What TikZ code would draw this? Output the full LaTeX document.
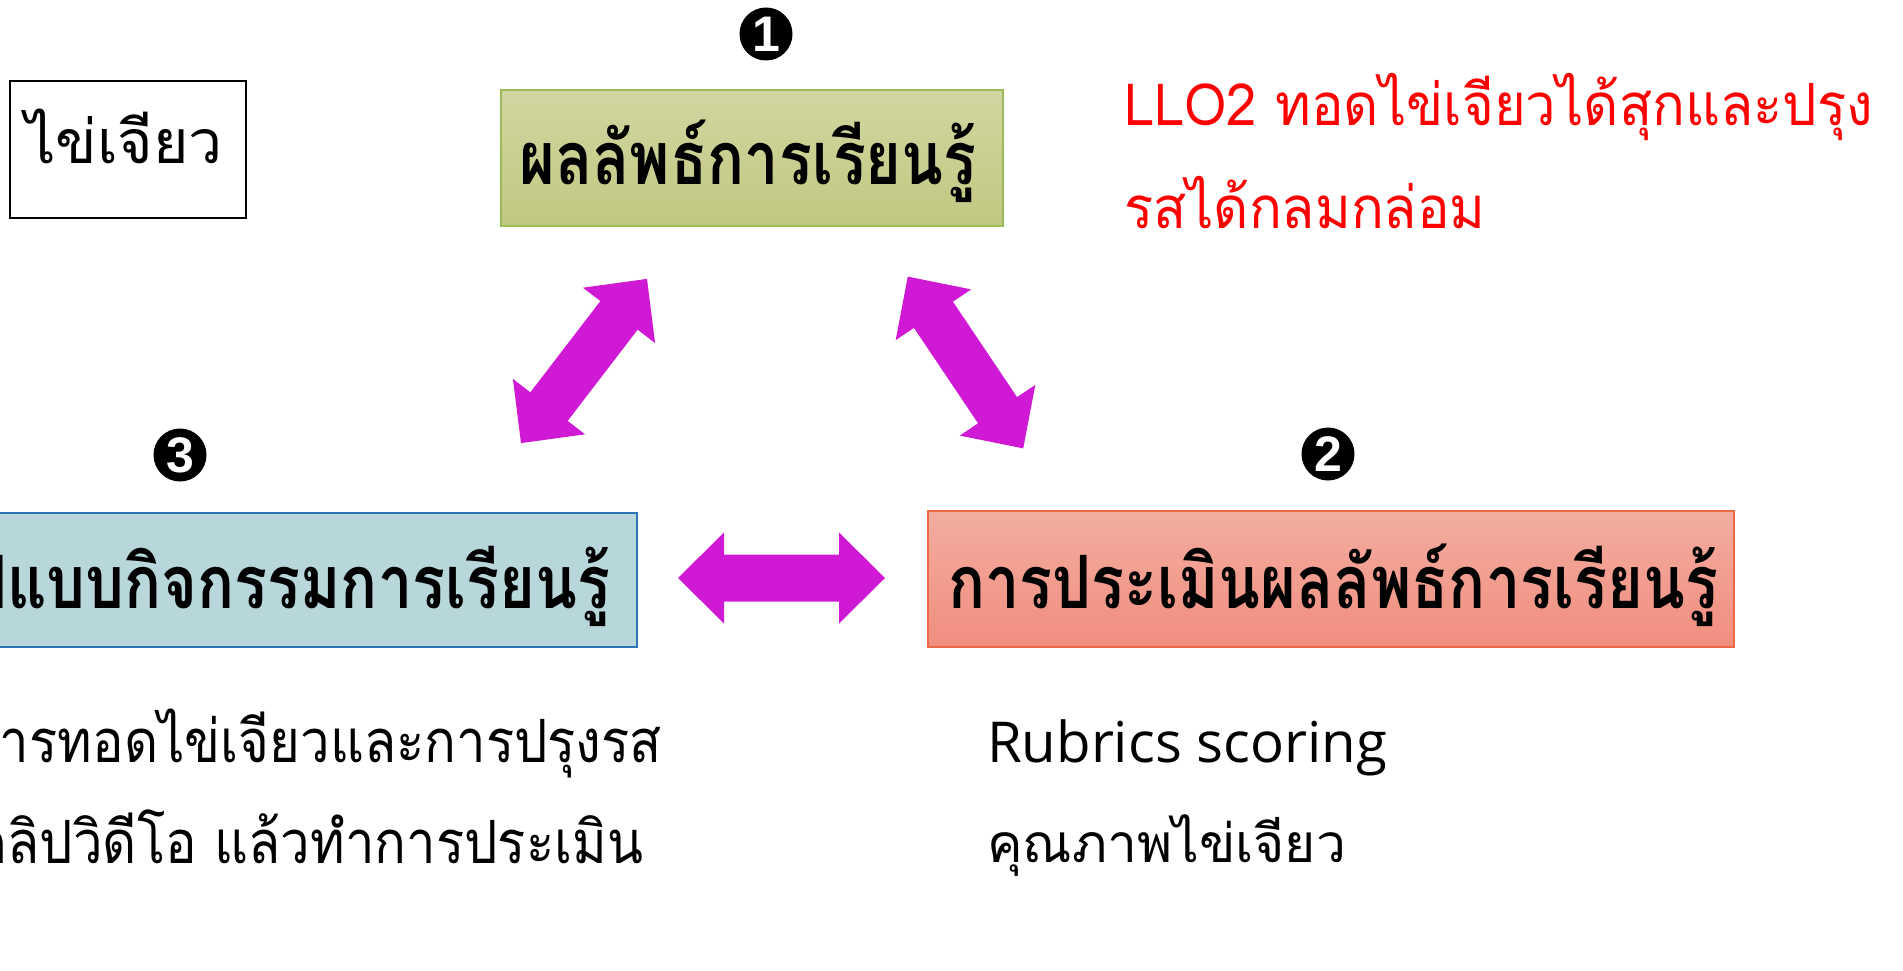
\documentclass[tikz,border=0pt]{standalone}
\usepackage{fontspec}
\usepackage{graphicx}
\newfontfamily\thai[Script=Thai]{Loma}
\newfontfamily\opensans{Open Sans}
\newfontfamily\numfont{Liberation Sans}
\definecolor{mag}{RGB}{208,25,213}
\definecolor{olivetop}{RGB}{209,214,161}
\definecolor{olivebot}{RGB}{194,200,128}
\definecolor{oliveline}{RGB}{155,187,89}
\definecolor{bluefill}{RGB}{184,215,219}
\definecolor{blueline}{RGB}{46,117,182}
\definecolor{saltop}{RGB}{242,173,160}
\definecolor{salbot}{RGB}{241,142,126}
\definecolor{salline}{RGB}{236,105,70}
\newlength\wA \newlength\wB \newlength\wC \newlength\wD
\newcommand\headfont{\thai\bfseries\fontsize{60}{60}\selectfont}
\newcommand\bodyfont{\thai\fontsize{60}{60}\selectfont}
\tikzset{
  dblarr/.pic={\fill[mag] (-103.5,0) -- (-57.5,45.5) -- (-57.5,23.5) -- (57.5,23.5) -- (57.5,45.5) -- (103.5,0) -- (57.5,-45.5) -- (57.5,-23.5) -- (-57.5,-23.5) -- (-57.5,-45.5) -- cycle;},
  numc/.style={circle, fill=black, minimum size=53pt, inner sep=0pt, text=white, font=\numfont\bfseries\fontsize{50}{50}\selectfont},
  txt/.style={inner sep=0pt, outer sep=0pt}
}
\begin{document}
\settowidth\wA{\headfont การประเมินผลลัพธ์การเรียนรู้}%
\pgfmathsetmacro\hs{770/\wA}%
\pgfmathsetmacro\hys{\hs*1.2}%
\settowidth\wB{\bodyfont LLO2 ทอดไข่เจียวได้สุกและปรุง}%
\pgfmathsetmacro\rs{749/\wB}%
\pgfmathsetmacro\rys{\rs*1.07}%
\settowidth\wC{\bodyfont คุณภาพไข่เจียว}%
\pgfmathsetmacro\ks{359/\wC}%
\settowidth\wD{\bodyfont ารทอดไข่เจียวและการปรุงรส}%
\pgfmathsetmacro\bxs{662/\wD}%
\pgfmathsetmacro\bys{\ks*1.12}%
\begin{tikzpicture}[x=1pt,y=-1pt]
\useasboundingbox (0,0) rectangle (1903,971);
\clip (0,0) rectangle (1903,971);

% boxes
\node[draw=black, line width=2pt, minimum width=236pt, minimum height=137pt, inner sep=0pt] (b0) at (128,149.5) {};
\node[draw=oliveline, line width=1.3pt, top color=olivetop, bottom color=olivebot, minimum width=502pt, minimum height=136pt, inner sep=0pt] (b1) at (752,158) {};
\node[draw=salline, line width=1.3pt, top color=saltop, bottom color=salbot, minimum width=806pt, minimum height=136pt, inner sep=0pt] (b2) at (1331,579) {};
\node[draw=blueline, line width=1.3pt, fill=bluefill, minimum width=937pt, minimum height=134pt, inner sep=0pt] (b3) at (168.5,580) {};

% box texts
\node[txt, anchor=base] (t0) at (124,163) {\resizebox{198pt}{!}{\bodyfont ไข่เจียว}};
\node[txt, anchor=base] (t1) at (748,184) {\scalebox{\hs}[\hys]{\headfont ผลลัพธ์การเรียนรู้}};
\node[txt, anchor=base] (t2) at (1333,608) {\scalebox{\hs}[\hys]{\headfont การประเมินผลลัพธ์การเรียนรู้}};
\node[txt, anchor=base east] (t3) at (610,608) {\scalebox{\hs}[\hys]{\headfont รูปแบบกิจกรรมการเรียนรู้}};

% numbers
\node[numc] (n1) at (766,34) {1};
\node[numc] (n2) at (1328,454) {2};
\node[numc] (n3) at (180,455) {3};

% red LLO text
\node[txt, anchor=base west, text=red] (r1) at (1124,126) {\scalebox{\rs}[\rys]{\bodyfont LLO2 ทอดไข่เจียวได้สุกและปรุง}};
\node[txt, anchor=base west, text=red] (r2) at (1124,228) {\scalebox{\rs}[\rys]{\bodyfont รสได้กลมกล่อม}};

% lower texts
\node[txt, anchor=base east] (l1) at (662,762) {\scalebox{\bxs}[\bys]{\bodyfont การทอดไข่เจียวและการปรุงรส}};
\node[txt, anchor=base east] (l2) at (643,863) {\scalebox{\bxs}[\bys]{\bodyfont คลิปวิดีโอ แล้วทำการประเมิน}};
\node[txt, anchor=base west] (q1) at (987,762) {\resizebox{400pt}{!}{\opensans Rubrics scoring}};
\node[txt, anchor=base west] (q2) at (987,862) {\scalebox{\ks}{\bodyfont คุณภาพไข่เจียว}};

% arrows
\pic[rotate=52.5] at (584,361) {dblarr};
\pic[rotate=-56.1] at (965.5,362.5) {dblarr};
\pic at (781.5,578) {dblarr};
\end{tikzpicture}
\end{document}
